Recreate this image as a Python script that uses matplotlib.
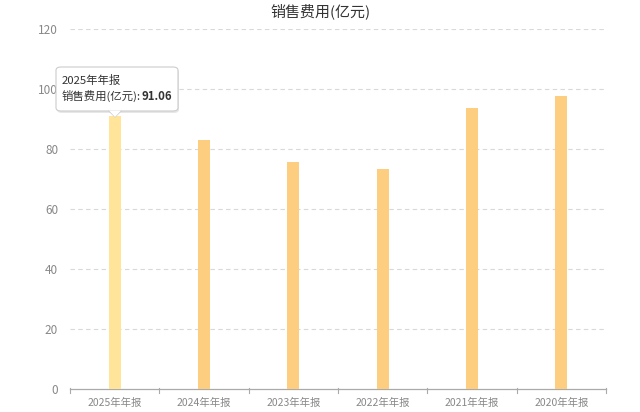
import matplotlib
matplotlib.use("Agg")
import matplotlib.pyplot as plt
from matplotlib.patches import FancyBboxPatch, Polygon
import numpy as np

plt.rcParams['font.family'] = ['Noto Sans CJK SC', 'DejaVu Sans']

categories = ["2025年年报", "2024年年报", "2023年年报", "2022年年报", "2021年年报", "2020年年报"]
values = [91.06, 83.0, 75.6, 73.3, 93.6, 97.7]
yticks = [0, 20, 40, 60, 80, 100, 120]
title = "销售费用(亿元)"
series_name = "销售费用(亿元)"

W, H = 640, 412
fig = plt.figure(figsize=(W / 100, H / 100), dpi=100)
ax = fig.add_axes([70 / W, 1 - 389 / H, (606 - 70) / W, (389 - 29) / H])

x = np.arange(len(categories))
colors = ["#FFE49A"] + ["#FDCE7F"] * (len(categories) - 1)
ax.bar(x, values, width=0.135, color=colors, zorder=3)

ax.set_xlim(-0.5, len(categories) - 0.5)
ax.set_ylim(0, 120)
ax.set_yticks(yticks)
ax.set_yticklabels([str(v) for v in yticks], fontsize=8.5, color="#888888")
ax.tick_params(axis='y', length=0, pad=8.5)

for v in yticks[1:]:
    ax.axhline(v, color="#d9d9d9", lw=0.8, ls=(0, (4, 3)), zorder=1)

ax.set_xticks(x)
ax.set_xticklabels(categories, fontsize=7.5, color="#888888")
ax.tick_params(axis='x', length=0, pad=6)
for b in np.arange(-0.5, len(categories), 1.0):
    ax.plot([b, b], [0.5, -1.2], color="#aaaaaa", lw=0.8, clip_on=False, zorder=4)

for s in ["top", "right", "left"]:
    ax.spines[s].set_visible(False)
ax.spines["bottom"].set_color("#aaaaaa")
ax.spines["bottom"].set_linewidth(0.9)

fig.text(320 / W, 1 - 11 / H, title, ha="center", va="center", fontsize=10.8, color="#333333")

# Tooltip
def px(xp, yp):
    return (xp / W, 1 - yp / H)

box_l, box_r, box_t, box_b = 56, 178, 67, 111
shadow = FancyBboxPatch(px(box_l + 1, box_b + 2), (box_r - box_l) / W, (box_b - box_t) / H,
                        boxstyle="round,pad=0,rounding_size=0.008", transform=fig.transFigure,
                        facecolor="#00000018", edgecolor="none", zorder=9)
fig.patches.append(shadow)
box = FancyBboxPatch(px(box_l, box_b), (box_r - box_l) / W, (box_b - box_t) / H,
                     boxstyle="round,pad=0,rounding_size=0.008", transform=fig.transFigure,
                     facecolor="white", edgecolor="#cccccc", lw=0.8, zorder=10)
fig.patches.append(box)
tri = Polygon([px(109, box_b - 0.5), px(121, box_b - 0.5), px(115, box_b + 6)], closed=True,
              transform=fig.transFigure, facecolor="white", edgecolor="none", zorder=11)
fig.patches.append(tri)
fig.lines.append(plt.Line2D([109 / W, 115 / W, 121 / W], [1 - box_b / H, 1 - (box_b + 6) / H, 1 - box_b / H],
                            transform=fig.transFigure, color="#cccccc", lw=0.8, zorder=11))

fig.text(*px(62, 80), categories[0], ha="left", va="center", fontsize=8.2, color="#333333", zorder=12)
t1 = fig.text(*px(62, 96), series_name + ":", ha="left", va="center", fontsize=8.2, color="#333333", zorder=12)
fig.canvas.draw()
bb = t1.get_window_extent(renderer=fig.canvas.get_renderer())
fig.text(bb.x1 / W, 1 - 96 / H, f"{values[0]:.2f}", ha="left", va="center", fontsize=8.2,
         fontweight="bold", color="#333333", zorder=12)

fig.savefig("out.png", dpi=100)
